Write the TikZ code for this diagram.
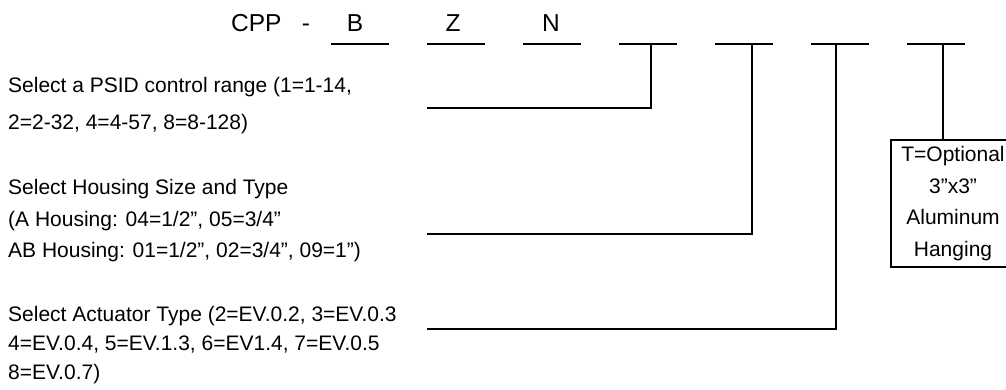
\documentclass[tikz,border=0pt]{standalone}
\usepackage{fontspec}
\setmainfont{Liberation Sans}
\begin{document}
\begin{tikzpicture}[x=1pt,y=-1pt,
  wire/.style={line width=2.2pt},
  lbl/.style={anchor=base west,inner sep=0pt,font=\fontsize{21}{30}\selectfont},
  code/.style={anchor=base,inner sep=0pt,font=\fontsize{24.5}{28}\selectfont},
  optbox/.style={draw,line width=2.2pt,minimum width=124pt,minimum height=127pt,inner sep=0pt,align=center,
    font=\fontsize{21}{31.5}\selectfont}]
\useasboundingbox (0,0) rectangle (1006,390);
% top code row
\node[code,anchor=base west] (cpp) at (231,32) {CPP};
\node[code] (dash) at (306,32) {-};
\node[code] (b) at (355,32) {B};
\node[code] (z) at (453,32) {Z};
\node[code] (n) at (551,32) {N};
% blanks
\foreach \i/\x in {1/331,2/427,3/523,4/619,5/715,6/811,7/907}{
  \coordinate (s\i) at (\x,44);
  \coordinate (e\i) at (\x+58,44);
  \draw[wire] (s\i) -- (e\i);
}
\coordinate (d4) at (651,44);
\coordinate (d5) at (752,44);
\coordinate (d6) at (836,44);
\coordinate (d7) at (943,44);
% labels
\node[lbl] (psid1) at (8,93) {Select a PSID control range (1=1-14,};
\node[lbl] (psid2) at (8,130) {2=2-32, 4=4-57, 8=8-128)};
\node[lbl] (hous1) at (8,195) {Select Housing Size and Type};
\node[lbl] (hous2) at (8,226) {(A Housing: 04=1/2”, 05=3/4”};
\node[lbl] (hous3) at (8,257) {AB Housing: 01=1/2”, 02=3/4”, 09=1”)};
\node[lbl] (act1) at (8,321) {Select Actuator Type (2=EV.0.2, 3=EV.0.3};
\node[lbl] (act2) at (8,350) {4=EV.0.4, 5=EV.1.3, 6=EV1.4, 7=EV.0.5};
\node[lbl] (act3) at (8,379) {8=EV.0.7)};
% connector ends
\coordinate (c1) at (427,108);
\coordinate (c2) at (427,234);
\coordinate (c3) at (427,329);
\draw[wire] (d4) |- (c1);
\draw[wire] (d5) |- (c2);
\draw[wire] (d6) |- (c3);
% option box
\node[optbox] (opt) at (953,203.5) {T=Optional\\3”x3”\\Aluminum\\Hanging};
\draw[wire] (d7) -- (d7 |- opt.north);
\end{tikzpicture}
\end{document}
